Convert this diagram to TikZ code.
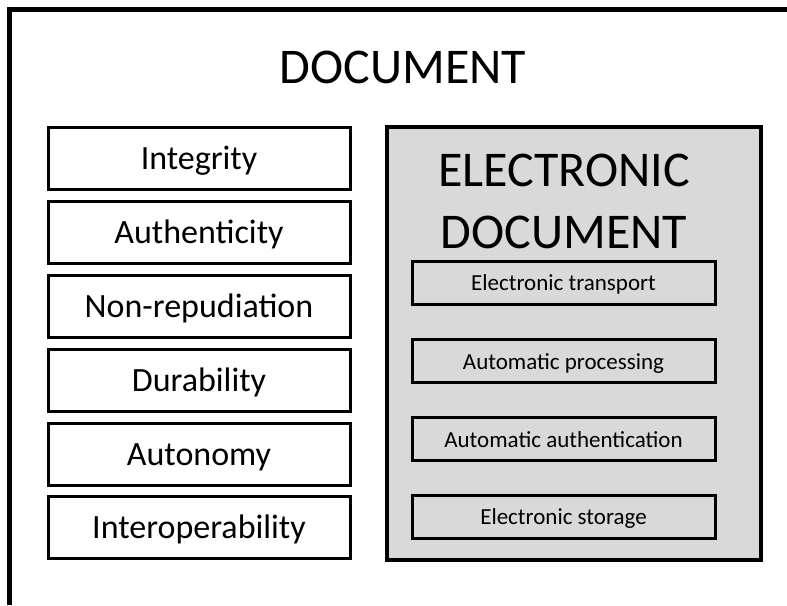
\documentclass[tikz,border=0pt]{standalone}
\usepackage{fontspec}
\setmainfont{Carlito}
\definecolor{boxgray}{HTML}{D9D9D9}

\tikzset{
	propbox/.style={draw, line width=3pt, minimum width=302pt, minimum height=62pt, inner sep=0pt, text height=25pt, text depth=3pt, font=\fontsize{34}{40}\selectfont},
	featbox/.style={draw, line width=3pt, minimum width=303pt, minimum height=43pt, inner sep=0pt, text height=19pt, text depth=3pt, font=\fontsize{23}{28}\selectfont},
	edocbox/.style={draw, line width=4pt, fill=boxgray, minimum width=374pt, minimum height=433pt, inner sep=0pt}
}

\begin{document}
\begin{tikzpicture}[x=1pt,y=-1pt]
	\useasboundingbox (0,0) rectangle (787,605);

	% Outer frame
	\draw[line width=5pt] (9.5,605) -- (9.5,9.5) -- (787,9.5);

	% Title
	\node[anchor=base, font=\fontsize{50}{60}\selectfont] (title) at (403,83) {DOCUMENT};

	% Left column: properties
	\node[propbox] (integrity) at (199,158.5) {Integrity};
	\node[propbox] (authenticity) at (199,232.5) {Authenticity};
	\node[propbox] (nonrep) at (199,306.5) {Non-repudiation};
	\node[propbox] (durability) at (199,380.5) {Durability};
	\node[propbox] (autonomy) at (199,454.5) {Autonomy};
	\node[propbox] (interop) at (199,527.5) {Interoperability};

	% Right box: electronic document
	\node[edocbox] (edoc) at (574,343.5) {};
	\node[anchor=base, align=center, font=\fontsize{50}{62}\selectfont] (edoctitle) at (564,248) {ELECTRONIC\\DOCUMENT};

	\node[featbox] (transport) at (563.5,282.5) {Electronic transport};
	\node[featbox] (processing) at (563.5,361) {Automatic processing};
	\node[featbox] (authentication) at (563.5,439) {Automatic authentication};
	\node[featbox] (storage) at (563.5,516.5) {Electronic storage};

\end{tikzpicture}
\end{document}
